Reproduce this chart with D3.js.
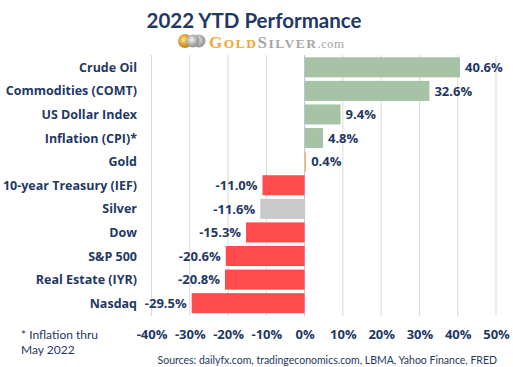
<!DOCTYPE html>
<html><head><meta charset="utf-8">
<script src="https://cdn.jsdelivr.net/npm/d3@7"></script>
<style>body{margin:0;background:#fff}svg{display:block}</style>
</head><body>
<script>
const categories = ["Crude Oil","Commodities (COMT)","US Dollar Index","Inflation (CPI)*","Gold","10-year Treasury (IEF)","Silver","Dow","S&P 500","Real Estate (IYR)","Nasdaq"];
const values = [40.6,32.6,9.4,4.8,0.4,-11.0,-11.6,-15.3,-20.6,-20.8,-29.5];
const barColors = ["#a6c3a6","#a6c3a6","#a6c3a6","#a6c3a6","#f4b77a","#ff4b4b","#c9c9c9","#ff4b4b","#ff4b4b","#ff4b4b","#ff4b4b"];
const tickValues = [-40,-30,-20,-10,0,10,20,30,40,50];
const title = "2022 YTD Performance";
const footnote = ["* Inflation thru","May 2022"];
const sources = "Sources: dailyfx.com, tradingeconomics.com, LBMA, Yahoo Finance, FRED";

const W=513,H=367, navy="#1f3864";
const svg=d3.select("body").append("svg").attr("width",W).attr("height",H);
const font="'Open Sans', Lato, sans-serif";
const font2="Lato, 'Open Sans', sans-serif";

const x=d3.scaleLinear().domain([-40,50]).range([151.5,496]);
const y=d3.scaleBand().domain(categories).range([55.5,315]).paddingInner(0.15).paddingOuter(0.075);

// gridlines
svg.append("g").selectAll("line").data(tickValues).join("line")
  .attr("x1",d=>x(d)).attr("x2",d=>x(d)).attr("y1",55).attr("y2",316)
  .attr("stroke",d=>d===0?"#b4c7e7":"#d9d9d9").attr("stroke-width",1);

// bars
svg.append("g").selectAll("rect").data(values).join("rect")
  .attr("x",d=>x(Math.min(0,d))).attr("width",d=>Math.abs(x(d)-x(0)))
  .attr("y",(d,i)=>y(categories[i])).attr("height",y.bandwidth())
  .attr("fill",(d,i)=>barColors[i]);

// value labels
svg.append("g").selectAll("text").data(values).join("text")
  .attr("x",d=>d>=0?x(d)+5:x(d)-5)
  .attr("y",(d,i)=>y(categories[i])+y.bandwidth()/2)
  .attr("dy","0.36em").attr("text-anchor",d=>d>=0?"start":"end")
  .attr("font-family",font).attr("font-weight",700).attr("font-size",13).attr("fill",navy)
  .text(d=>d.toFixed(1)+"%");

// category labels
svg.append("g").selectAll("text").data(categories).join("text")
  .attr("x",137).attr("y",d=>y(d)+y.bandwidth()/2).attr("dy","0.36em")
  .attr("text-anchor","end").attr("font-family",font).attr("font-weight",700)
  .attr("font-size",12.5).attr("fill",navy).text(d=>d);

// x axis tick labels
const ax=svg.append("g").attr("transform","translate(0,327)")
  .call(d3.axisBottom(x).tickValues(tickValues).tickSize(0).tickFormat(d=>d+"%"));
ax.select(".domain").remove();
ax.selectAll("text").attr("font-family",font).attr("font-weight",700).attr("font-size",13).attr("fill",navy);

// title
svg.append("text").attr("x",254).attr("y",28).attr("text-anchor","middle")
  .attr("font-family",font2).attr("font-weight",700).attr("font-size",20.5).attr("fill",navy).text(title);

// logo
const defs=svg.append("defs");
const gg=defs.append("radialGradient").attr("id","gold").attr("cx","40%").attr("cy","40%");
gg.append("stop").attr("offset","0%").attr("stop-color","#ffe08a");
gg.append("stop").attr("offset","100%").attr("stop-color","#c98a1a");
const sg=defs.append("radialGradient").attr("id","silv").attr("cx","40%").attr("cy","40%");
sg.append("stop").attr("offset","0%").attr("stop-color","#f2f2f2");
sg.append("stop").attr("offset","100%").attr("stop-color","#9a9a9a");
svg.append("circle").attr("cx",199).attr("cy",41).attr("r",6.5).attr("fill","url(#silv)");
svg.append("circle").attr("cx",185).attr("cy",41).attr("r",7).attr("fill","url(#gold)");
svg.append("circle").attr("cx",193).attr("cy",41).attr("r",6.5).attr("fill","url(#silv)");
const lt=svg.append("text").attr("x",209).attr("y",47.5).attr("font-family","'Liberation Serif', serif").attr("font-weight",700);
lt.append("tspan").attr("font-size",17).attr("letter-spacing",1.5).attr("fill","#f0a830").text("G");
lt.append("tspan").attr("font-size",13.5).attr("letter-spacing",1.5).attr("fill","#f0a830").text("OLD");
lt.append("tspan").attr("font-size",17).attr("letter-spacing",1.5).attr("fill","#a6a6a6").text("S");
lt.append("tspan").attr("font-size",13.5).attr("letter-spacing",1.5).attr("fill","#a6a6a6").text("ILVER");
lt.append("tspan").attr("font-size",13).attr("font-weight",400).attr("letter-spacing",0.3).attr("fill","#a6a6a6").text(".com");

// footnote
svg.append("g").selectAll("text").data(footnote).join("text")
  .attr("x",21).attr("y",(d,i)=>339+i*15).attr("font-family",font2)
  .attr("font-size",12).attr("fill",navy).text(d=>d);

svg.append("text").attr("x",497).attr("y",364).attr("text-anchor","end")
  .attr("font-family",font2).attr("font-size",10.5).attr("fill",navy).text(sources);
</script>
</body></html>
